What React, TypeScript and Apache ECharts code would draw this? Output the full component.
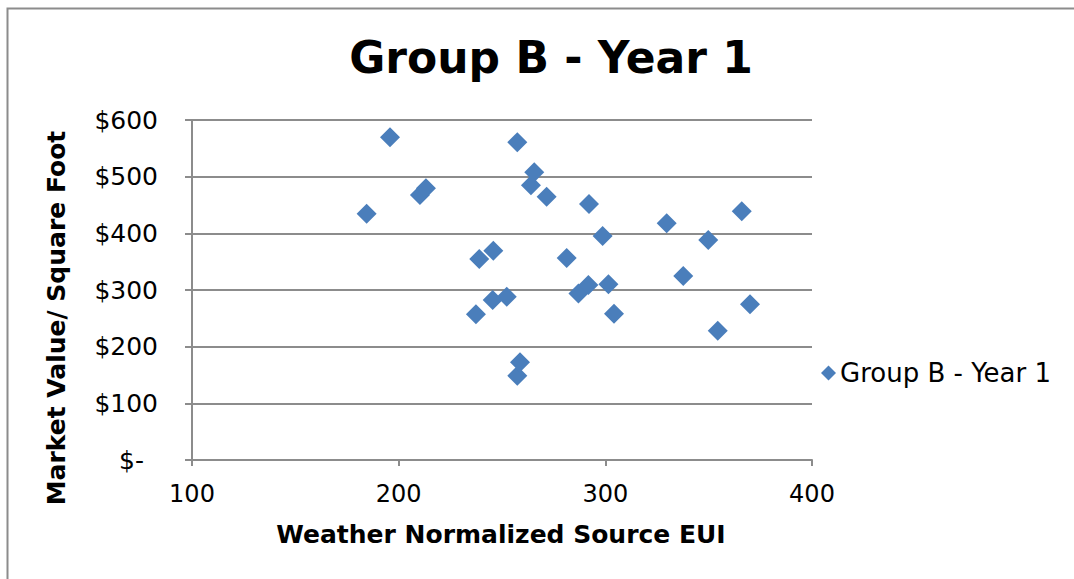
import React, { useEffect, useRef } from "react";
import * as echarts from "echarts";

const seriesName = "Group B - Year 1";
const euiValues = [
  184.5, 195.8, 210.3, 213.2, 237.4, 239.0, 245.8, 245.5, 252.3, 257.4,
  257.4, 258.7, 264.0, 265.6, 271.6, 281.3, 287.0, 291.8, 292.1, 298.7,
  301.5, 304.2, 329.7, 337.7, 349.8, 354.4, 366.0, 370.0,
];
const marketValues = [
  434.7, 569.5, 467.6, 479.4, 257.0, 354.7, 369.4, 282.4, 288.0, 560.6,
  148.8, 172.4, 485.0, 508.0, 464.7, 356.5, 294.0, 308.8, 451.8, 395.3,
  310.0, 258.3, 417.7, 324.7, 388.2, 228.2, 438.8, 274.7,
];
const xTicks = [100, 200, 300, 400];
const yTicks = [0, 100, 200, 300, 400, 500, 600];

const FONT = "DejaVu Sans";

export default function App() {
  const ref = useRef<HTMLDivElement>(null);
  useEffect(() => {
    document.body.style.margin = "0";
    const chart = echarts.init(ref.current!, null, { renderer: "svg" });
    const data = euiValues.map((x, i) => [x, marketValues[i]]);
    chart.setOption({
      animation: false,
      backgroundColor: "#ffffff",
      textStyle: { fontFamily: FONT },
      title: {
        text: seriesName,
        left: 546,
        top: 30,
        textAlign: "center",
        textStyle: { fontFamily: FONT, fontWeight: "bold", fontSize: 44, color: "#000" },
      },
      legend: {
        data: [seriesName],
        left: 816,
        top: 355,
        icon: "diamond",
        itemWidth: 15,
        itemHeight: 15,
        itemGap: 4,
        textStyle: { fontFamily: FONT, fontSize: 26, color: "#000", padding: [0, 0, 0, -1] },
      },
      grid: { left: 192, right: 262, top: 120, bottom: 119, containLabel: false },
      xAxis: {
        type: "value",
        min: xTicks[0],
        max: xTicks[xTicks.length - 1],
        interval: 100,
        axisLine: { show: true, lineStyle: { color: "#8c8c8c", width: 2 } },
        axisTick: { show: true, length: 6, lineStyle: { color: "#8c8c8c", width: 2 } },
        splitLine: { show: false },
        axisLabel: { margin: 22, fontFamily: FONT, fontSize: 24, color: "#000" },
      },
      yAxis: {
        type: "value",
        min: yTicks[0],
        max: yTicks[yTicks.length - 1],
        interval: 100,
        axisLine: { show: true, lineStyle: { color: "#8c8c8c", width: 2 } },
        axisTick: { show: true, length: 7, lineStyle: { color: "#8c8c8c", width: 2 } },
        splitLine: { show: true, lineStyle: { color: "#8c8c8c", width: 2 } },
        axisLabel: {
          margin: 34,
          fontFamily: FONT,
          fontSize: 25,
          color: "#000",
          formatter: (v: number) => (v === 0 ? "{d|$-}" : "$" + v),
          rich: { d: { fontFamily: FONT, fontSize: 25, color: "#000", padding: [0, 14, 0, 0] } },
        },
      },
      graphic: [
        {
          type: "rect",
          shape: { x: 7.5, y: 8.5, width: 1200, height: 700 },
          style: { fill: "none", stroke: "#8c8c8c", lineWidth: 2 },
          silent: true,
        },
        {
          type: "text",
          x: 501,
          y: 534,
          style: {
            text: "Weather Normalized Source EUI",
            fontFamily: FONT,
            fontWeight: "bold",
            fontSize: 25,
            fill: "#000",
            align: "center",
            verticalAlign: "middle",
          },
        },
        {
          type: "text",
          x: 56,
          y: 318,
          rotation: Math.PI / 2,
          style: {
            text: "Market Value/ Square Foot",
            fontFamily: FONT,
            fontWeight: "bold",
            fontSize: 25,
            fill: "#000",
            align: "center",
            verticalAlign: "middle",
          },
        },
      ],
      series: [
        {
          name: seriesName,
          type: "scatter",
          symbol: "diamond",
          symbolSize: 20,
          itemStyle: { color: "#4a7ebb", opacity: 1 },
          data,
        },
      ],
    });
    return () => chart.dispose();
  }, []);
  return <div ref={ref} style={{ width: 1074, height: 579 }} />;
}
